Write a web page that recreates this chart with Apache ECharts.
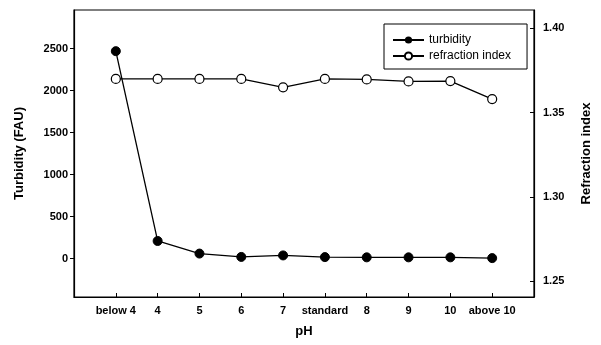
<!DOCTYPE html>
<html>
<head>
<meta charset="utf-8">
<script src="https://cdn.jsdelivr.net/npm/echarts@6/dist/echarts.min.js"></script>
<style>
  html, body { margin: 0; padding: 0; background: #fff; }
  #chart { width: 601px; height: 345px; }
</style>
</head>
<body>
<div id="chart"></div>
<script>
const categories = ['below 4', '4', '5', '6', '7', 'standard', '8', '9', '10', 'above 10']
const turbidity = [2470, 210, 60, 20, 38, 18, 15, 15, 15, 6]
const refraction = [1.370, 1.370, 1.370, 1.370, 1.365, 1.370, 1.3697, 1.3685, 1.3687, 1.358]
const turbidityTicks = [0, 500, 1000, 1500, 2000, 2500]
const refractionTicks = [1.25, 1.30, 1.35, 1.40]

const font = 'Liberation Sans, Arial, sans-serif'
const idx = categories.map((_, i) => i)

const chart = echarts.init(document.getElementById('chart'))

const option = {
  animation: false,
  backgroundColor: '#fff',
  grid: {
    left: 74,
    right: 59,
    top: 10,
    bottom: 48,
    show: true,
    borderColor: '#000',
    borderWidth: 1.2,
  },
  legend: {
    orient: 'vertical',
    left: 384,
    top: 24,
    padding: [10, 16, 7, 8],
    itemGap: 4,
    itemWidth: 31,
    itemHeight: 9,
    borderColor: '#000',
    borderWidth: 1,
    textStyle: { fontFamily: font, fontSize: 12, color: '#000' },
    data: ['turbidity', 'refraction index'],
  },
  xAxis: {
    type: 'value',
    min: -1,
    max: 10,
    name: 'pH',
    nameLocation: 'middle',
    nameGap: 28,
    nameTextStyle: { fontFamily: font, fontSize: 13, fontWeight: 'bold', color: '#000' },
    splitLine: { show: false },
    axisLine: { onZero: false, lineStyle: { color: '#000', width: 1.2 } },
    axisTick: { inside: true, length: 4, customValues: idx, lineStyle: { color: '#000' } },
    axisLabel: {
      customValues: idx,
      formatter: (v) => categories[v] ?? '',
      fontFamily: font,
      fontSize: 11,
      fontWeight: 'bold',
      color: '#000',
      margin: 8,
    },
  },
  yAxis: [
    {
      type: 'value',
      position: 'left',
      min: -457,
      max: 2960,
      name: 'Turbidity (FAU)',
      nameLocation: 'middle',
      nameRotate: 90,
      nameGap: 48,
      nameTextStyle: { fontFamily: font, fontSize: 13, fontWeight: 'bold', color: '#000' },
      splitLine: { show: false },
      axisLine: { show: true, onZero: false, lineStyle: { color: '#000', width: 1.2 } },
      axisTick: { show: true, length: 4, customValues: turbidityTicks, lineStyle: { color: '#000' } },
      axisLabel: {
        customValues: turbidityTicks,
        formatter: (v) => String(v),
        fontFamily: font,
        fontSize: 11,
        fontWeight: 'bold',
        color: '#000',
        margin: 6,
      },
    },
    {
      type: 'value',
      position: 'right',
      min: 1.2405,
      max: 1.4109,
      name: 'Refraction index',
      nameLocation: 'middle',
      nameRotate: 90,
      nameGap: 46,
      nameTextStyle: { fontFamily: font, fontSize: 13, fontWeight: 'bold', color: '#000' },
      splitLine: { show: false },
      axisLine: { show: true, onZero: false, lineStyle: { color: '#000', width: 1.2 } },
      axisTick: { show: true, inside: true, length: 4, customValues: refractionTicks, lineStyle: { color: '#000' } },
      axisLabel: {
        customValues: refractionTicks,
        formatter: (v) => v.toFixed(2),
        fontFamily: font,
        fontSize: 11,
        fontWeight: 'bold',
        color: '#000',
        margin: 9,
      },
    },
  ],
  series: [
    {
      name: 'turbidity',
      type: 'line',
      yAxisIndex: 0,
      data: idx.map((i) => [i, turbidity[i]]),
      symbol: 'circle',
      symbolSize: 9,
      itemStyle: { color: '#000', borderColor: '#000' },
      lineStyle: { color: '#000', width: 1.3 },
    },
    {
      name: 'refraction index',
      type: 'line',
      yAxisIndex: 1,
      data: idx.map((i) => [i, refraction[i]]),
      symbol: 'circle',
      symbolSize: 9,
      itemStyle: { color: '#fff', borderColor: '#000', borderWidth: 1.2 },
      lineStyle: { color: '#000', width: 1.3 },
    },
  ],
}

chart.setOption(option)
</script>
</body>
</html>
